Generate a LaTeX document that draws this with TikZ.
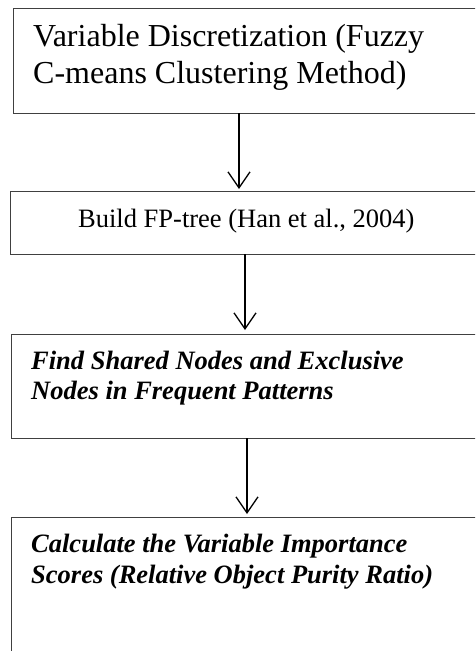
\documentclass[tikz,border=0pt]{standalone}
\usepackage{fontspec}
\setmainfont{Liberation Serif}
\usetikzlibrary{arrows.meta}

\tikzset{
  stagebox/.style={draw=black!75, line width=1pt, fill=none},
  flowarrow/.style={line width=1.3pt,
    -{Straight Barb[length=16pt,width=22pt,line width=1.3pt]}},
  stagetext/.style={inner sep=0pt, anchor=base west, align=left},
}

\begin{document}
\begin{tikzpicture}[x=1pt,y=-1pt]
  \useasboundingbox (0,0) rectangle (475,651);
  \clip (0,0) rectangle (475,651);

  % process boxes (they run past the right and bottom edge)
  \draw[stagebox] (13,8) rectangle (500,113);
  \draw[stagebox] (10,191) rectangle (500,254);
  \draw[stagebox] (11,334) rectangle (500,438);
  \draw[stagebox] (11,517) rectangle (500,720);

  % anchor points of the arrows on the box borders
  \coordinate (a1s) at (239,113);
  \coordinate (a1e) at (239,189);
  \coordinate (a2s) at (245,254);
  \coordinate (a2e) at (245,330);
  \coordinate (a3s) at (247,438);
  \coordinate (a3e) at (247,514);

  % texts (base anchor sits on the last line)
  \node[stagetext, font=\fontsize{32}{37}\selectfont] (t1) at (33,83)
    {Variable Discretization (Fuzzy\\C-means Clustering Method)};
  \node[stagetext, font=\fontsize{26.5}{30}\selectfont] (t2) at (78,227)
    {Build FP-tree (Han et al., 2004)};
  \node[stagetext, font=\fontsize{26.5}{30}\selectfont\bfseries\itshape] (t3) at (31,399)
    {Find Shared Nodes and Exclusive\\Nodes in Frequent Patterns};
  \node[stagetext, font=\fontsize{26.5}{31}\selectfont\bfseries\itshape] (t4) at (31,583)
    {Calculate the Variable Importance\\Scores (Relative Object Purity Ratio)};

  % connectors
  \draw[flowarrow] (a1s) -- (a1e);
  \draw[flowarrow] (a2s) -- (a2e);
  \draw[flowarrow] (a3s) -- (a3e);
\end{tikzpicture}
\end{document}
